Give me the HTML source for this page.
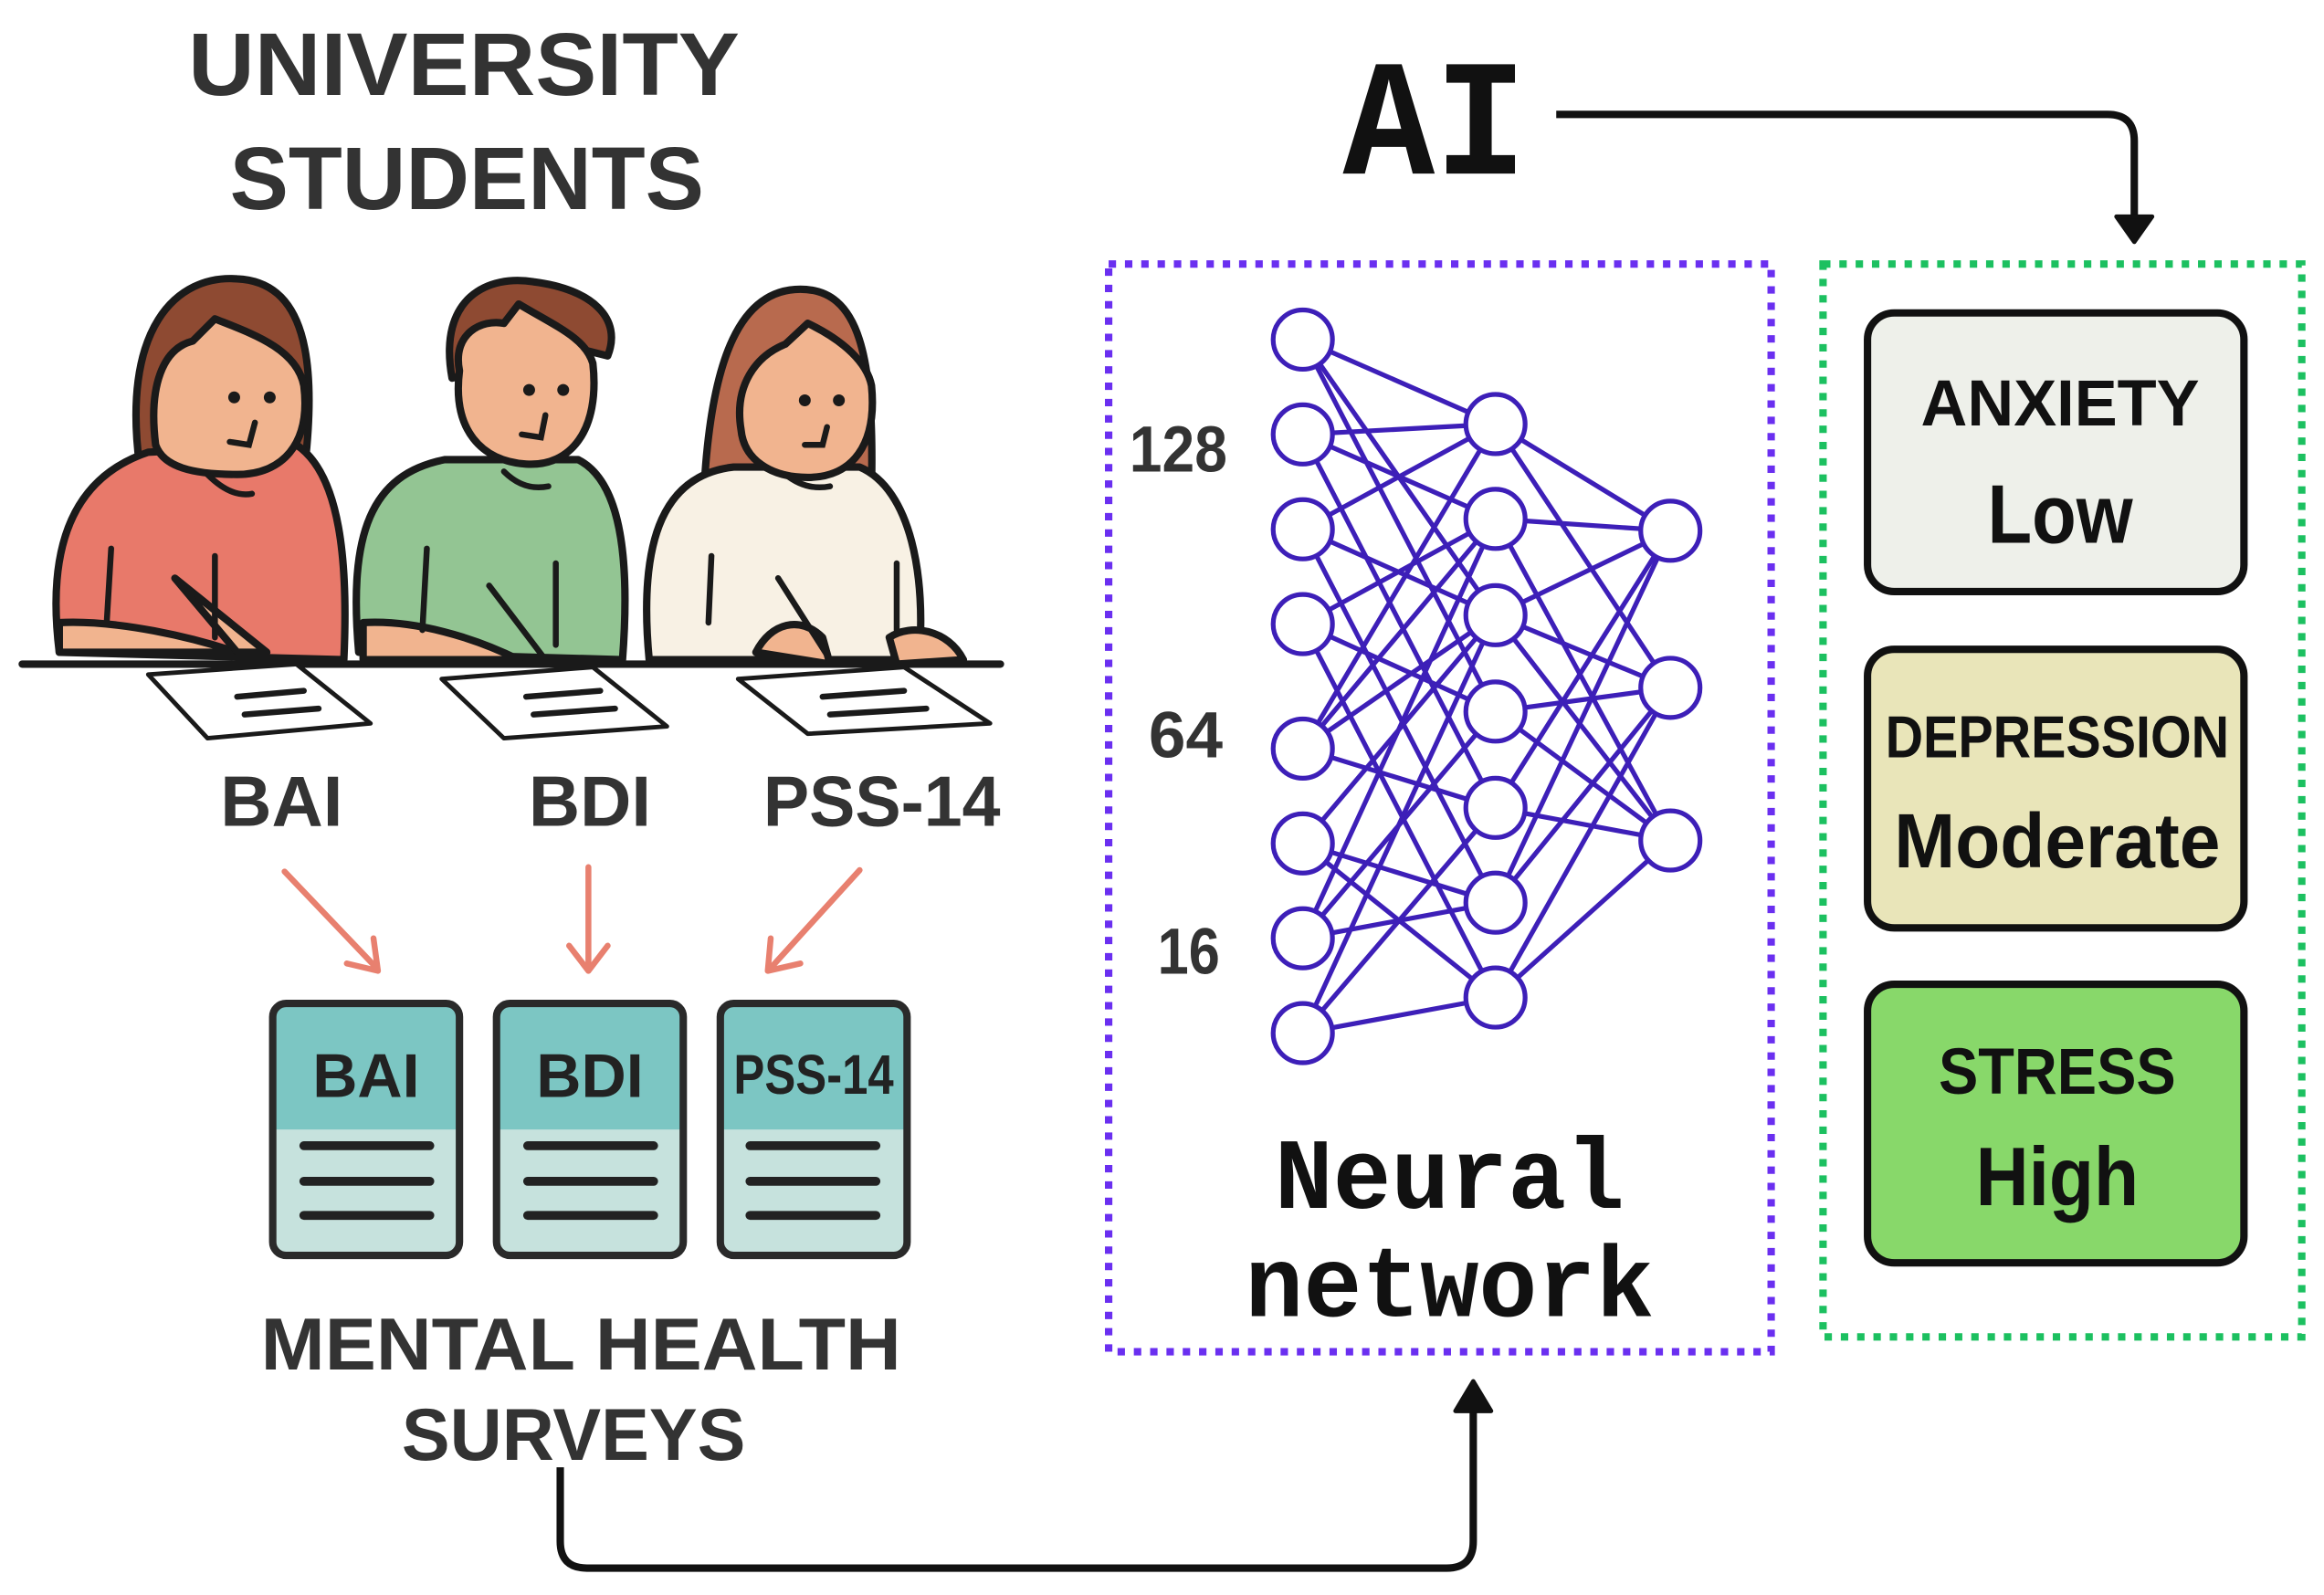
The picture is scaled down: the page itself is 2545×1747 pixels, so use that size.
<!DOCTYPE html>
<html><head><meta charset="utf-8"><style>
html,body{margin:0;padding:0;background:#fff;}
svg{display:block}
.s{font-family:"Liberation Sans",sans-serif;font-weight:bold}
.m{font-family:"Liberation Mono","DejaVu Sans Mono",monospace;font-weight:bold}
</style></head><body>
<svg width="2545" height="1747" viewBox="0 0 1568 1076" xmlns="http://www.w3.org/2000/svg">
<rect width="1568" height="1076" fill="#fff"/>
<text class="s" x="313" y="64" font-size="60" fill="#333" text-anchor="middle" textLength="372" lengthAdjust="spacingAndGlyphs">UNIVERSITY</text>
<text class="s" x="315" y="141" font-size="60" fill="#333" text-anchor="middle" textLength="320" lengthAdjust="spacingAndGlyphs">STUDENTS</text>

<g stroke="#1a1a1a" stroke-width="5" stroke-linejoin="round" stroke-linecap="round">
 <path d="M95,320 C80,220 120,185 160,188 C205,190 215,240 205,320 Z" fill="#8e4a32"/>
 <path d="M40,440 C30,360 55,320 100,305 L200,300 C230,320 235,380 232,445 Z" fill="#e8796a"/>
 <path d="M105,300 C100,260 110,235 130,230 L145,215 C170,225 200,235 205,260 C210,300 190,320 160,320 C130,320 110,315 105,300 Z" fill="#f1b48f"/>
 <path d="M40,440 L40,420 C80,418 130,430 160,440 Z" fill="#f1b48f"/>
 <path d="M118,390 L160,440 L180,440 Z" fill="#f1b48f"/>
 <path d="M305,255 C295,200 330,185 360,190 C400,195 420,215 410,240 L390,235 Z" fill="#8e4a32"/>
 <path d="M242,440 C235,360 250,320 300,310 L390,310 C420,325 425,380 420,445 Z" fill="#93c593"/>
 <path d="M310,250 C305,225 325,215 340,218 L350,205 C375,220 395,228 400,245 C405,290 385,315 355,313 C325,311 305,290 310,250 Z" fill="#f1b48f"/>
 <path d="M245,420 C280,418 320,430 350,445 L245,445 Z" fill="#f1b48f"/>
 <path d="M475,330 C480,240 500,195 540,195 C580,195 590,240 588,330 Z" fill="#b86a4e"/>
 <path d="M438,445 C430,360 450,320 495,315 L580,315 C615,330 625,390 620,445 Z" fill="#f8f1e4"/>
 <path d="M500,290 C495,260 510,240 530,232 L545,218 C570,230 585,245 588,260 C592,300 575,322 545,322 C520,322 502,310 500,290 Z" fill="#f1b48f"/>
 <path d="M600,430 C615,420 640,425 650,445 L605,448 Z" fill="#f1b48f"/>
 <path d="M510,440 C520,420 540,415 555,430 L560,448 Z" fill="#f1b48f"/>
</g>
<g fill="#1a1a1a">
 <circle cx="158" cy="268" r="4"/><circle cx="182" cy="268" r="4"/>
 <circle cx="357" cy="263" r="4"/><circle cx="380" cy="263" r="4"/>
 <circle cx="543" cy="270" r="4"/><circle cx="566" cy="270" r="4"/>
</g>
<g stroke="#1a1a1a" stroke-width="4" fill="none" stroke-linecap="round">
 <path d="M172,285 L168,300 L155,298"/><path d="M140,320 C150,330 160,335 170,333"/>
 <path d="M368,280 L365,295 L352,293"/><path d="M340,318 C350,328 360,330 370,328"/>
 <path d="M558,288 L555,300 L543,300"/><path d="M530,320 C540,328 550,330 560,328"/>
 <line x1="75" y1="370" x2="72" y2="420"/><line x1="145" y1="375" x2="145" y2="430"/>
 <line x1="288" y1="370" x2="285" y2="425"/><line x1="375" y1="380" x2="375" y2="435"/>
 <line x1="480" y1="375" x2="478" y2="420"/><line x1="605" y1="380" x2="605" y2="425"/>
 <line x1="118" y1="390" x2="160" y2="440"/><line x1="330" y1="395" x2="368" y2="445"/><line x1="525" y1="390" x2="560" y2="445"/>
 <line x1="15" y1="448" x2="675" y2="448" stroke-width="5"/>
</g>
<g stroke="#1a1a1a" stroke-width="3" fill="#fff" stroke-linejoin="round">
 <path d="M100,455 L200,448 L250,488 L140,498 Z"/>
 <path d="M298,458 L400,450 L450,490 L340,498 Z"/>
 <path d="M498,458 L610,450 L668,488 L545,495 Z"/>
</g>
<g stroke="#1a1a1a" stroke-width="4" stroke-linecap="round">
 <line x1="160" y1="470" x2="205" y2="466"/><line x1="165" y1="482" x2="215" y2="478"/>
 <line x1="355" y1="470" x2="405" y2="466"/><line x1="360" y1="482" x2="415" y2="478"/>
 <line x1="555" y1="470" x2="610" y2="466"/><line x1="560" y1="482" x2="625" y2="478"/>
</g>

<g class="s" font-size="48" fill="#333" text-anchor="middle">
 <text x="190" y="557">BAI</text>
 <text x="398" y="557">BDI</text>
 <text x="595" y="557" textLength="160" lengthAdjust="spacingAndGlyphs">PSS-14</text>
</g>
<g stroke="#e8806f" stroke-width="4" fill="none" stroke-linecap="round" stroke-linejoin="round">
 <line x1="192" y1="588" x2="254" y2="653"/><path d="M234,650 L255,655 L252,633"/>
 <line x1="397" y1="585" x2="397" y2="653"/><path d="M384,638 L397,655 L410,638"/>
 <line x1="580" y1="587" x2="520" y2="653"/><path d="M520,633 L518,655 L540,650"/>
</g>
<g>
 <g transform="translate(182,675)">
  <rect x="2" y="2" width="126" height="170" rx="9" fill="#c6e2dd"/>
  <path d="M2,87 L2,11 Q2,2 11,2 L119,2 Q128,2 128,11 L128,87 Z" fill="#7cc6c3"/>
  <rect x="2" y="2" width="126" height="170" rx="9" fill="none" stroke="#2a2a2a" stroke-width="5"/>
 </g>
 <g transform="translate(333,675)">
  <rect x="2" y="2" width="126" height="170" rx="9" fill="#c6e2dd"/>
  <path d="M2,87 L2,11 Q2,2 11,2 L119,2 Q128,2 128,11 L128,87 Z" fill="#7cc6c3"/>
  <rect x="2" y="2" width="126" height="170" rx="9" fill="none" stroke="#2a2a2a" stroke-width="5"/>
 </g>
 <g transform="translate(484,675)">
  <rect x="2" y="2" width="126" height="170" rx="9" fill="#c6e2dd"/>
  <path d="M2,87 L2,11 Q2,2 11,2 L119,2 Q128,2 128,11 L128,87 Z" fill="#7cc6c3"/>
  <rect x="2" y="2" width="126" height="170" rx="9" fill="none" stroke="#2a2a2a" stroke-width="5"/>
 </g>
</g>
<g class="s" font-size="42" fill="#222" text-anchor="middle">
 <text x="247" y="740">BAI</text>
 <text x="398" y="740">BDI</text>
 <text x="549" y="738" font-size="38" textLength="108" lengthAdjust="spacingAndGlyphs">PSS-14</text>
</g>
<g stroke="#222" stroke-width="6" stroke-linecap="round">
 <line x1="205" y1="773" x2="290" y2="773"/><line x1="205" y1="797" x2="290" y2="797"/><line x1="205" y1="820" x2="290" y2="820"/>
 <line x1="356" y1="773" x2="441" y2="773"/><line x1="356" y1="797" x2="441" y2="797"/><line x1="356" y1="820" x2="441" y2="820"/>
 <line x1="506" y1="773" x2="591" y2="773"/><line x1="506" y1="797" x2="591" y2="797"/><line x1="506" y1="820" x2="591" y2="820"/>
</g>
<text class="s" x="392" y="924" font-size="50" fill="#333" text-anchor="middle" textLength="432" lengthAdjust="spacingAndGlyphs">MENTAL HEALTH</text>
<text class="s" x="387" y="985" font-size="50" fill="#333" text-anchor="middle" textLength="232" lengthAdjust="spacingAndGlyphs">SURVEYS</text>
<path d="M378,990 L378,1040 Q378,1058 396,1058 L976,1058 Q994,1058 994,1040 L994,948" stroke="#111" stroke-width="5" fill="none"/>
<path d="M982,952 L994,932 L1006,952 Z" fill="#111" stroke="#111" stroke-width="3" stroke-linejoin="round"/>

<text class="m" x="968" y="117" font-size="112" fill="#111" text-anchor="middle" textLength="124" lengthAdjust="spacingAndGlyphs">AI</text>
<path d="M1050,77 L1422,77 Q1440,77 1440,95 L1440,148" stroke="#111" stroke-width="5" fill="none"/>
<path d="M1428,146 L1440,163 L1452,146 Z" fill="#111" stroke="#111" stroke-width="3" stroke-linejoin="round"/>

<rect x="748" y="178" width="447" height="734" fill="none" stroke="#6a2ff0" stroke-width="5" stroke-dasharray="5 6"/>
<rect x="1230" y="178" width="323" height="724" fill="none" stroke="#1cc060" stroke-width="5" stroke-dasharray="5 6"/>

<g id="edges" stroke="#3d1fb8" stroke-width="3.2"></g>
<g id="nodes" stroke="#3d1fb8" stroke-width="3.2" fill="#fff"></g>
<g class="s" font-size="44" fill="#333" text-anchor="middle">
 <text x="795" y="318" textLength="66" lengthAdjust="spacingAndGlyphs">128</text>
 <text x="800" y="511" textLength="50" lengthAdjust="spacingAndGlyphs">64</text>
 <text x="802" y="657" textLength="42" lengthAdjust="spacingAndGlyphs">16</text>
</g>
<text class="m" x="978" y="815" font-size="68" fill="#111" text-anchor="middle" textLength="236" lengthAdjust="spacingAndGlyphs">Neural</text>
<text class="m" x="978" y="888" font-size="68" fill="#111" text-anchor="middle" textLength="276" lengthAdjust="spacingAndGlyphs">network</text>

<rect x="1260" y="211" width="254" height="188" rx="18" fill="#eef0ea" stroke="#111" stroke-width="5"/>
<rect x="1260" y="438" width="254" height="188" rx="18" fill="#e9e5b9" stroke="#111" stroke-width="5"/>
<rect x="1260" y="664" width="254" height="188" rx="18" fill="#88d86a" stroke="#111" stroke-width="5"/>
<g class="s" fill="#111" text-anchor="middle">
 <text x="1390" y="287" font-size="44" textLength="188" lengthAdjust="spacingAndGlyphs">ANXIETY</text>
 <text x="1390" y="366" font-size="56" textLength="98" lengthAdjust="spacingAndGlyphs">Low</text>
 <text x="1388" y="511" font-size="40" textLength="232" lengthAdjust="spacingAndGlyphs">DEPRESSION</text>
 <text x="1388" y="585" font-size="52" textLength="220" lengthAdjust="spacingAndGlyphs">Moderate</text>
 <text x="1388" y="738" font-size="44" textLength="160" lengthAdjust="spacingAndGlyphs">STRESS</text>
 <text x="1388" y="813" font-size="56" textLength="110" lengthAdjust="spacingAndGlyphs">High</text>
</g>
<script>
(function(){
 var ns="http://www.w3.org/2000/svg";
 var L1=[229,293,357,421,505,569,633,697].map(function(y){return[879,y]});
 var L2=[286,350,415,480,545,609,673].map(function(y){return[1009,y]});
 var L3=[358,464,567].map(function(y){return[1127,y]});
 var e=document.getElementById('edges'),n=document.getElementById('nodes');
 function line(a,b){var l=document.createElementNS(ns,'line');l.setAttribute('x1',a[0]);l.setAttribute('y1',a[1]);l.setAttribute('x2',b[0]);l.setAttribute('y2',b[1]);e.appendChild(l);}
 var c12=[[0,2,3],[0,1,4],[0,2,5],[1,3,6],[0,1,2,4],[2,5,6],[1,3,5],[2,4,6]];
 c12.forEach(function(a,i){a.forEach(function(j){line(L1[i],L2[j]);});});
 var c23=[[0,1],[0,2],[0,1,2],[1,2],[0,2],[0,1],[2,1]];
 c23.forEach(function(a,i){a.forEach(function(j){line(L2[i],L3[j]);});});
 function circ(p){var c=document.createElementNS(ns,'circle');c.setAttribute('cx',p[0]);c.setAttribute('cy',p[1]);c.setAttribute('r',20);n.appendChild(c);}
 L1.forEach(circ);L2.forEach(circ);L3.forEach(circ);
})();
</script>
</svg>
</body></html>
